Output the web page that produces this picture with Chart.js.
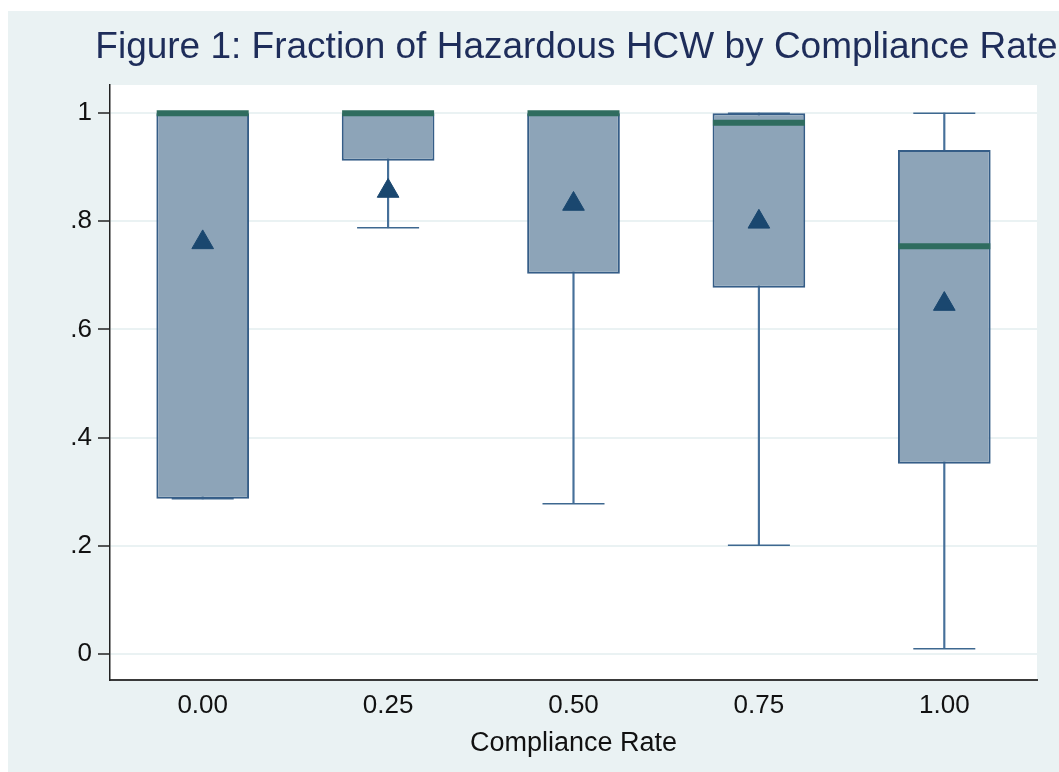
<!DOCTYPE html>
<html>
<head>
<meta charset="utf-8">
<title>Figure 1: Fraction of Hazardous HCW by Compliance Rate</title>
<script src="https://cdn.jsdelivr.net/npm/chart.js@4/dist/chart.umd.min.js"></script>
<style>
  html, body { margin: 0; padding: 0; background: #ffffff; }
  #wrap { width: 1059px; height: 772px; }
</style>
</head>
<body>
<div id="wrap"><canvas id="chart-box" width="1059" height="772"></canvas></div>
<script>
// box plot: fraction of hazardous HCW by compliance rate

const categories = ["0.00", "0.25", "0.50", "0.75", "1.00"];
const boxLow = [0.287, 0.912, 0.703, 0.677, 0.352];   // 25th pct
const boxHigh = [1.0, 1.0, 1.0, 1.0, 0.932];          // 75th pct
const medians = [1.0, 1.0, 1.0, 0.982, 0.754];
const means = [0.761, 0.856, 0.832, 0.799, 0.647];
const whiskerLow = [0.287, 0.788, 0.278, 0.201, 0.010];
const whiskerHigh = [1.0, 1.0, 1.0, 1.0, 1.0];
const yTicks = [0, 0.2, 0.4, 0.6, 0.8, 1];
const yTickLabels = ["0", ".2", ".4", ".6", ".8", "1"];

const TITLE_TEXT = "Figure 1: Fraction of Hazardous HCW by Compliance Rate";
const X_TITLE = "Compliance Rate";

(function () {
  const FONT = '"Liberation Sans", Arial, Helvetica, sans-serif';

  // stata-ish background: light graph region, white plot region
  const backgroundPlugin = {
    id: "stataBackground",
    beforeDraw(chart) {
      const { ctx, chartArea } = chart;
      ctx.save();
      ctx.fillStyle = "#ffffff";
      ctx.fillRect(0, 0, chart.width, chart.height);
      ctx.fillStyle = "#EAF2F3";
      ctx.fillRect(8, 11, chart.width - 8, chart.height - 11);
      ctx.fillStyle = "#ffffff";
      ctx.fillRect(
        chartArea.left,
        chartArea.top,
        chartArea.right - chartArea.left,
        chartArea.bottom - chartArea.top
      );
      ctx.restore();
    },
  };

  // title centred on the plot region, allowed to run off the right edge
  const titlePlugin = {
    id: "plotTitle",
    afterDraw(chart) {
      const { ctx, chartArea } = chart;
      ctx.save();
      ctx.font = "37px " + FONT;
      ctx.fillStyle = "#1E2D5A";
      ctx.textAlign = "center";
      ctx.textBaseline = "alphabetic";
      ctx.fillText(TITLE_TEXT, (chartArea.left + chartArea.right) / 2 + 3, 58);
      ctx.restore();
    },
  };

  function pairs(lo, hi) {
    return lo.map((v, i) => [v, hi[i]]);
  }

  function renderChart() {
    const ctx = document.getElementById("chart-box").getContext("2d");

    new Chart(ctx, {
      type: "bar",
      data: {
        labels: categories,
        datasets: [
          {
            label: "whisker",
            data: pairs(whiskerLow, whiskerHigh),
            backgroundColor: "#46709A",
            borderWidth: 0,
            barThickness: 1.5,
            grouped: false,
            order: 4,
          },
          {
            type: "line",
            label: "cap low",
            data: whiskerLow,
            showLine: false,
            pointStyle: "line",
            pointRadius: 31,
            pointBorderWidth: 1.5,
            pointBorderColor: "#3E6890",
            order: 3,
          },
          {
            type: "line",
            label: "cap high",
            data: whiskerHigh,
            showLine: false,
            pointStyle: "line",
            pointRadius: 31,
            pointBorderWidth: 1.5,
            pointBorderColor: "#3E6890",
            order: 3,
          },
          {
            label: "box",
            data: pairs(boxLow, boxHigh),
            backgroundColor: "#8DA4B8",
            borderColor: "#355D87",
            borderWidth: 2,
            borderSkipped: false,
            barPercentage: 0.5,
            categoryPercentage: 1,
            grouped: false,
            order: 2,
          },
          {
            type: "line",
            label: "median",
            data: medians,
            showLine: false,
            pointStyle: "line",
            pointRadius: 46,
            pointBorderWidth: 6,
            pointBorderColor: "#2F6C5F",
            order: 1,
          },
          {
            type: "line",
            label: "mean",
            data: means,
            showLine: false,
            pointStyle: "triangle",
            pointRadius: 12.5,
            pointBackgroundColor: "#1A476F",
            pointBorderColor: "#1A476F",
            pointBorderWidth: 1,
            order: 0,
          },
        ],
      },
      plugins: [backgroundPlugin, titlePlugin],
      options: {
        responsive: false,
        animation: false,
        events: [],
        layout: {
          autoPadding: false,
          padding: { left: 0, right: 22, top: 85, bottom: 0 },
        },
        plugins: {
          legend: { display: false },
          tooltip: { enabled: false },
          title: { display: false },
        },
        scales: {
          x: {
            offset: true,
            grid: { display: false, drawTicks: false },
            border: { display: true, color: "#3a3a3a", width: 2 },
            ticks: {
              color: "#111111",
              padding: 10,
              font: { family: FONT, size: 26 },
            },
            title: {
              display: true,
              text: X_TITLE,
              color: "#111111",
              font: { family: FONT, size: 27 },
              padding: { top: 12, bottom: 12 },
            },
            afterFit(scale) {
              scale.height = 92;
            },
          },
          y: {
            min: -0.048,
            max: 1.052,
            grid: {
              color: "#EAF2F3",
              lineWidth: 2,
              tickColor: "#222222",
              tickWidth: 1.5,
              tickLength: 12,
            },
            border: { display: true, color: "#222222", width: 1.5 },
            ticks: {
              color: "#111111",
              padding: 6,
              font: { family: FONT, size: 26 },
              callback(value) {
                const i = yTicks.findIndex((t) => Math.abs(t - value) < 1e-6);
                return i >= 0 ? yTickLabels[i] : "";
              },
            },
            afterBuildTicks(scale) {
              scale.ticks = yTicks.map((v) => ({ value: v }));
            },
            afterFit(scale) {
              scale.width = 110;
            },
          },
        },
      },
    });
  }

  document.addEventListener("DOMContentLoaded", renderChart);
})();
</script>
</body>
</html>
